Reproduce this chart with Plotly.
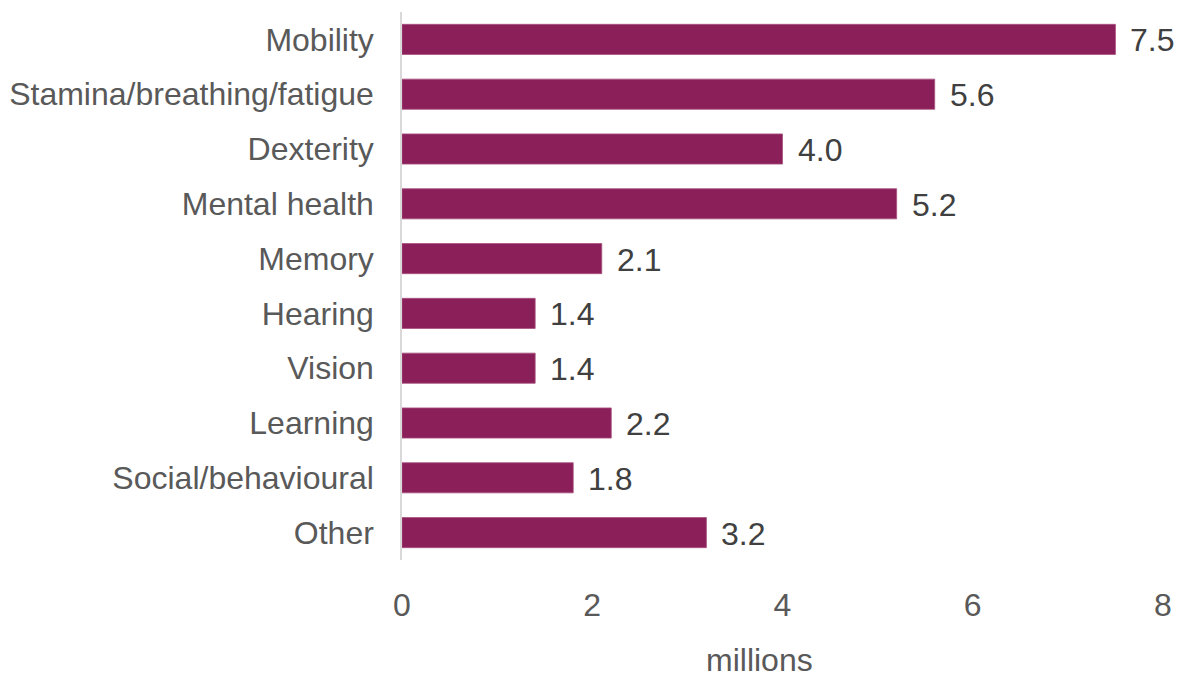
import plotly.graph_objects as go

categories = ["Mobility", "Stamina/breathing/fatigue", "Dexterity", "Mental health",
              "Memory", "Hearing", "Vision", "Learning", "Social/behavioural", "Other"]
values = [7.5, 5.6, 4.0, 5.2, 2.1, 1.4, 1.4, 2.2, 1.8, 3.2]
x_ticks = [0, 2, 4, 6, 8]
x_title = "millions"

BAR = "#8B1F5A"
FONT = "Liberation Sans, Arial, sans-serif"
FS = 32

fig = go.Figure(go.Bar(
    y=categories, x=values, orientation="h",
    marker=dict(color=BAR, line=dict(color="#A8517F", width=0.8)),
    width=0.55, hoverinfo="x+y",
))

for c, v in zip(categories, values):
    fig.add_annotation(x=v, y=c, text=f"{v:.1f}", showarrow=False,
                       xanchor="left", xshift=13, yshift=-1,
                       font=dict(family=FONT, size=FS, color="#404040"))

fig.add_annotation(x=4, y=0, xref="x", yref="paper", yanchor="middle",
                   yshift=-100, xshift=-23, text=x_title, showarrow=False,
                   font=dict(family=FONT, size=FS, color="#595959"))

fig.update_layout(
    width=1184, height=679,
    margin=dict(l=402, r=21, t=12, b=119, autoexpand=False),
    plot_bgcolor="white", paper_bgcolor="white",
    showlegend=False,
    font=dict(family=FONT, size=FS, color="#595959"),
    xaxis=dict(range=[0, 8], tickvals=x_ticks, showgrid=False, zeroline=False,
               showline=False, ticks="outside", ticklen=17, tickcolor="rgba(0,0,0,0)",
               tickfont=dict(size=FS, color="#595959"), automargin=False),
    yaxis=dict(autorange="reversed", showgrid=False, zeroline=False,
               showline=True, linecolor="#D9D9D9", linewidth=1.5,
               ticks="outside", ticklen=20, tickcolor="rgba(0,0,0,0)",
               tickfont=dict(size=FS, color="#595959"), automargin=False),
)

fig.write_html("out.html")
